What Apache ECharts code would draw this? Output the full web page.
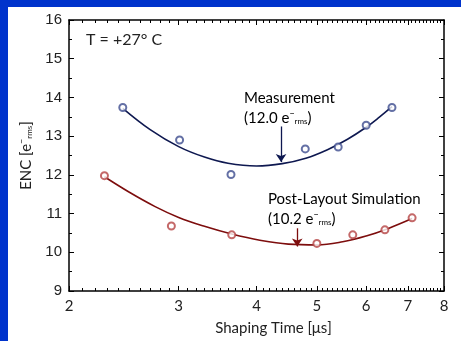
<!DOCTYPE html>
<html>
<head>
<meta charset="utf-8">
<script src="https://cdn.jsdelivr.net/npm/echarts@6/dist/echarts.min.js"></script>
<style>
  html, body { margin: 0; padding: 0; background: #0033cc; width: 461px; height: 341px; overflow: hidden; }
  #chart { position: absolute; left: 8px; top: 7px; width: 453px; height: 334px; background: #ffffff; }
</style>
</head>
<body>
<div id="chart"></div>
<script>
// ENC vs shaping time at T = +27 °C
const measPoints = [[2.44, 13.74], [3.01, 12.90], [3.64, 12.01], [4.79, 12.67], [5.41, 12.72], [6.00, 13.28], [6.60, 13.74]];
const measFit = [[2.44, 13.72], [2.7, 13.17], [3.0, 12.73], [3.3, 12.46], [3.6, 12.30], [4.0, 12.23], [4.4, 12.29], [4.8, 12.43], [5.2, 12.65], [5.6, 12.92], [6.0, 13.23], [6.3, 13.49], [6.6, 13.76]];
const simPoints = [[2.28, 11.98], [2.92, 10.68], [3.65, 10.45], [5.00, 10.23], [5.71, 10.45], [6.43, 10.58], [7.11, 10.89]];
const simFit = [[2.28, 11.95], [2.5, 11.55], [2.75, 11.18], [3.0, 10.90], [3.3, 10.67], [3.65, 10.47], [4.05, 10.31], [4.5, 10.21], [5.0, 10.19], [5.5, 10.27], [6.0, 10.42], [6.5, 10.61], [7.11, 10.87]];
const measEnc = '12.0';
const simEnc = '10.2';
const measArrow = [[4.38, 13.25], [4.38, 12.33]];
const simArrow = [[4.65, 10.62], [4.65, 10.15]];
const xMajor = [2, 3, 4, 5, 6, 7, 8];
const xMinor = [];
for (let k = 20; k <= 80; k++) if (k % 10 !== 0) xMinor.push(k / 10);

const blueLine = '#0e1850';
const bluePt = '#3d4c8e';
const redLine = '#7d0d0d';
const redPt = '#b54444';
const textFont = 'Lato';

const chart = echarts.init(document.getElementById('chart'), null, { renderer: 'canvas' });

function xAxisDef(pos, ticks, len, showLine, showLabel) {
  return {
    type: 'log', logBase: 2, min: 2, max: 8, position: pos,
    axisLine: { show: showLine, lineStyle: { color: '#000', width: 1.5 } },
    axisTick: { show: true, inside: true, length: len, customValues: ticks, lineStyle: { color: '#000', width: 1 } },
    axisLabel: showLabel ? { show: true, customValues: xMajor, fontFamily: textFont, fontSize: 15, color: '#222', margin: 8 } : { show: false },
    splitLine: { show: false }, minorSplitLine: { show: false }
  };
}
function yAxisDef(pos, showLabel) {
  const ax = {
    type: 'value', min: 9, max: 16, interval: 1, position: pos,
    axisLine: { show: true, lineStyle: { color: '#000', width: 1.5 } },
    axisTick: { show: true, inside: true, length: 5, lineStyle: { color: '#000', width: 1 } },
    minorTick: { show: true, splitNumber: 2, length: 3, lineStyle: { color: '#000', width: 1 } },
    axisLabel: showLabel ? { show: true, fontFamily: 'Liberation Sans', fontSize: 15, color: '#222', margin: 7 } : { show: false },
    splitLine: { show: false }
  };
  if (showLabel) {
    ax.name = '{t|ENC [e}{sup|−}{sub|rms}{t|]}';
    ax.nameLocation = 'middle';
    ax.nameGap = 34;
    ax.nameTextStyle = {
      rich: {
        t: { fontFamily: textFont, fontSize: 15, color: '#222' },
        sup: { fontFamily: textFont, fontSize: 9, color: '#222', padding: [0, 0, 8, 0] },
        sub: { fontFamily: textFont, fontSize: 8, color: '#222', padding: [6, 0, 0, 0] }
      }
    };
  }
  return ax;
}

const richLabel = (color) => ({
  n: { fontFamily: textFont, fontSize: 15, color: color },
  sup: { fontFamily: textFont, fontSize: 9, color: color, padding: [0, 0, 8, 0] },
  sub: { fontFamily: textFont, fontSize: 8, color: color, padding: [6, 0, 0, 0] }
});

const option = {
  animation: false,
  grid: { left: 61, top: 13, right: 17, bottom: 47, containLabel: false },
  xAxis: [
    Object.assign(xAxisDef('bottom', xMajor, 5, true, true), {
      name: 'Shaping Time [μs]', nameLocation: 'middle', nameGap: 30,
      nameTextStyle: { fontFamily: textFont, fontSize: 15, color: '#222', padding: [0, 0, 0, 34] }
    }),
    xAxisDef('bottom', xMinor, 3, false, false),
    xAxisDef('top', xMajor, 5, true, false),
    xAxisDef('top', xMinor, 3, false, false)
  ],
  yAxis: [yAxisDef('left', true), yAxisDef('right', false)],
  series: [
    {
      type: 'line', data: measFit, smooth: 0.4, showSymbol: false,
      lineStyle: { color: blueLine, width: 1.6 }, z: 3
    },
    {
      type: 'line', data: simFit, smooth: 0.4, showSymbol: false,
      lineStyle: { color: redLine, width: 1.6 }, z: 3
    },
    {
      type: 'scatter', data: measPoints, symbol: 'emptyCircle', symbolSize: 7,
      itemStyle: { color: bluePt, borderColor: bluePt, borderWidth: 1.2 }, z: 4,
      markLine: {
        silent: true, symbol: ['none', 'arrow'], symbolSize: 8,
        lineStyle: { color: blueLine, width: 1.3, type: 'solid' }, label: { show: false },
        data: [[{ coord: measArrow[0] }, { coord: measArrow[1] }]]
      }
    },
    {
      type: 'scatter', data: simPoints, symbol: 'emptyCircle', symbolSize: 7,
      itemStyle: { color: redPt, borderColor: redPt, borderWidth: 1.2 }, z: 4,
      markLine: {
        silent: true, symbol: ['none', 'arrow'], symbolSize: 8,
        lineStyle: { color: redLine, width: 1.3, type: 'solid' }, label: { show: false },
        data: [[{ coord: simArrow[0] }, { coord: simArrow[1] }]]
      }
    }
  ],
  graphic: [
    {
      type: 'text', left: 78, top: 25,
      style: { text: 'T = +27° C', fontFamily: textFont, fontSize: 16, fill: '#222' }
    },
    {
      type: 'text', left: 236, top: 81,
      style: {
        text: '{n|Measurement}\n{n|(' + measEnc + ' e}{sup|−}{sub|rms}{n|)}',
        lineHeight: 20, rich: richLabel('#1a1a2a')
      }
    },
    {
      type: 'text', left: 260, top: 182,
      style: {
        text: '{n|Post-Layout Simulation}\n{n|(' + simEnc + ' e}{sup|−}{sub|rms}{n|)}',
        lineHeight: 20, rich: richLabel('#5a1010')
      }
    }
  ]
};
chart.setOption(option);
</script>
</body>
</html>
